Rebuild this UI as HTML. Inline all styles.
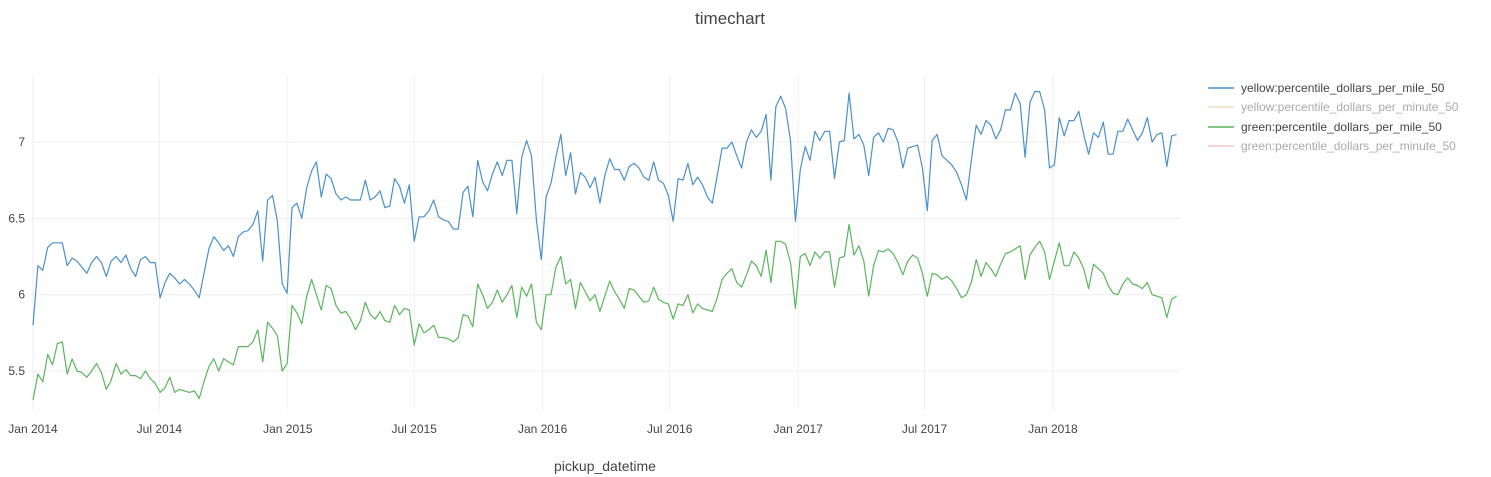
<!DOCTYPE html>
<html><head><meta charset="utf-8"><style>
body{margin:0;background:#fff;font-family:"Liberation Sans",sans-serif;}
svg{display:block}
</style></head><body>
<svg id="chart" width="1491" height="477">
<text x="730" y="24" text-anchor="middle" font-size="17" fill="#444">timechart</text>
<g id="grid"></g>
<g id="yticks"></g>
<g id="xticks"></g>
<g id="series"></g>
<text x="605" y="471" text-anchor="middle" font-size="14" fill="#444">pickup_datetime</text>
<g>
<g><line x1="1208" y1="88" x2="1234" y2="88" stroke="#4a90c8" stroke-width="1.5"/><text x="1241" y="92" font-size="12" fill="#444">yellow:percentile_dollars_per_mile_50</text></g>
<g><line x1="1208" y1="107" x2="1234" y2="107" stroke="#f7ddc0" stroke-width="1.5"/><text x="1241" y="111" font-size="12" fill="#aaa">yellow:percentile_dollars_per_minute_50</text></g>
<g><line x1="1208" y1="127" x2="1234" y2="127" stroke="#59b55b" stroke-width="1.5"/><text x="1241" y="131" font-size="12" fill="#444">green:percentile_dollars_per_mile_50</text></g>
<g><line x1="1208" y1="146" x2="1234" y2="146" stroke="#f4c6cb" stroke-width="1.5"/><text x="1241" y="150" font-size="12" fill="#aaa">green:percentile_dollars_per_minute_50</text></g>
</g>
</svg>
<script>
const startDate = "2014-01-01";
const yTicks = [5.5, 6, 6.5, 7];
const xTickLabels = ["Jan 2014","Jul 2014","Jan 2015","Jul 2015","Jan 2016","Jul 2016","Jan 2017","Jul 2017","Jan 2018"];
const xTickDates = ["2014-01-01","2014-07-01","2015-01-01","2015-07-01","2016-01-01","2016-07-01","2017-01-01","2017-07-01","2018-01-01"];
const yellowPerMile = [5.80,6.19,6.16,6.31,6.34,6.34,6.34,6.19,6.24,6.22,6.18,6.14,6.21,6.25,6.21,6.12,6.22,6.25,6.21,6.26,6.17,6.12,6.23,6.25,6.21,6.21,5.98,6.08,6.14,6.11,6.07,6.10,6.07,6.03,5.98,6.14,6.30,6.38,6.34,6.29,6.32,6.25,6.38,6.41,6.42,6.46,6.55,6.22,6.62,6.65,6.48,6.07,6.01,
6.57,6.60,6.50,6.70,6.81,6.87,6.64,6.79,6.76,6.66,6.62,6.64,6.62,6.62,6.62,6.75,6.62,6.64,6.68,6.57,6.58,6.76,6.71,6.60,6.72,6.35,6.51,6.51,6.55,6.62,6.51,6.49,6.48,6.43,6.43,6.67,6.71,6.51,6.88,6.74,6.68,6.79,6.87,6.78,6.88,6.88,6.53,6.90,7.01,6.91,6.49,
6.23,6.64,6.73,6.90,7.05,6.78,6.93,6.66,6.80,6.77,6.70,6.77,6.60,6.78,6.89,6.82,6.82,6.75,6.84,6.86,6.83,6.77,6.75,6.87,6.75,6.73,6.65,6.48,6.76,6.75,6.86,6.72,6.77,6.72,6.64,6.60,6.78,6.96,6.96,7.00,6.91,6.83,7.00,7.08,7.03,7.07,7.18,6.75,7.23,7.30,7.22,7.01,6.48,6.82,
6.97,6.88,7.07,7.01,7.07,7.07,6.76,7.00,7.01,7.32,7.02,7.05,6.98,6.78,7.03,7.06,7.00,7.09,7.08,7.00,6.83,6.96,6.97,6.98,6.83,6.55,7.01,7.05,6.91,6.88,6.85,6.80,6.72,6.62,6.88,7.11,7.05,7.14,7.11,7.02,7.08,7.21,7.21,7.32,7.25,6.90,7.26,7.33,7.33,7.21,6.83,6.85,7.16,7.04,7.14,7.14,7.20,7.05,6.92,7.06,7.03,7.13,6.92,6.92,7.07,7.07,7.15,7.08,7.01,7.06,7.16,7.00,7.05,7.06,6.84,7.04,7.05];
const greenPerMile = [5.31,5.48,5.43,5.61,5.54,5.68,5.69,5.48,5.58,5.50,5.49,5.46,5.50,5.55,5.49,5.38,5.44,5.55,5.48,5.51,5.47,5.47,5.45,5.50,5.45,5.42,5.36,5.39,5.46,5.36,5.38,5.37,5.36,5.37,5.32,5.43,5.53,5.58,5.50,5.58,5.56,5.54,5.66,5.66,5.66,5.69,5.77,5.56,5.82,5.78,5.73,5.50,5.55,5.93,5.88,5.81,5.99,6.10,
6.00,5.90,6.06,6.04,5.93,5.88,5.89,5.84,5.77,5.83,5.95,5.87,5.84,5.89,5.83,5.82,5.93,5.87,5.91,5.90,5.67,5.81,5.75,5.77,5.80,5.72,5.72,5.71,5.69,5.72,5.87,5.86,5.79,6.07,6.00,5.91,5.95,6.03,5.95,6.00,6.06,5.85,6.05,5.99,6.07,5.82,5.77,
6.00,6.00,6.18,6.25,6.07,6.10,5.91,6.08,6.02,5.96,6.00,5.89,5.99,6.09,6.02,5.97,5.91,6.04,6.03,5.99,5.95,5.96,6.05,5.97,5.95,5.94,5.84,5.94,5.93,6.00,5.88,5.94,5.91,5.90,5.89,5.98,6.10,6.14,6.17,6.08,6.05,6.13,6.22,6.19,6.12,6.29,6.08,6.35,6.35,6.33,6.21,5.91,6.25,
6.27,6.19,6.28,6.24,6.28,6.28,6.05,6.24,6.25,6.46,6.26,6.32,6.22,5.99,6.19,6.29,6.28,6.30,6.27,6.21,6.13,6.22,6.26,6.24,6.14,5.99,6.14,6.13,6.10,6.12,6.09,6.04,5.98,6.00,6.08,6.23,6.12,6.21,6.17,6.12,6.20,6.27,6.28,6.30,6.32,6.10,6.26,6.31,6.35,6.28,6.10,6.22,6.34,6.19,6.19,6.28,6.24,6.17,6.04,6.20,6.17,6.14,6.06,6.01,6.00,6.07,6.11,6.07,6.06,6.04,6.08,6.00,5.99,5.98,5.85,5.97,5.99];

const NS="http://www.w3.org/2000/svg";
const t0=Date.parse(startDate), DAY=86400000;
const PLOT={l:33,r:1180,t:75,b:410};
function xPx(ms){return 33+(ms-t0)/DAY*(1020/1461);}
function yPx(v){return 142+(7-v)*152.7;}
function mk(tag,attrs,parent){const e=document.createElementNS(NS,tag);for(const k in attrs)e.setAttribute(k,attrs[k]);parent.appendChild(e);return e;}
const grid=document.getElementById('grid'), yt=document.getElementById('yticks'), xt=document.getElementById('xticks'), ser=document.getElementById('series');
yTicks.forEach(v=>{
  const g=mk('line',{x1:PLOT.l,x2:PLOT.r,y1:yPx(v),y2:yPx(v),stroke:'#eeeeee','stroke-width':1},grid);
  
  
  const t=mk('text',{x:25,y:yPx(v)+4,'text-anchor':'end','font-size':12,fill:'#444'},yt);
  t.textContent=String(v);
  
  
});
xTickDates.forEach((d,i)=>{
  const x=xPx(Date.parse(d));
  const g=mk('line',{x1:x,x2:x,y1:PLOT.t,y2:PLOT.b,stroke:'#eeeeee','stroke-width':1},grid);
  
  
  const t=mk('text',{x:x,y:433,'text-anchor':'middle','font-size':12,fill:'#444'},xt);
  t.textContent=xTickLabels[i];
  
  
});
function drawLine(vals,color,name){
  const pts=vals.map((v,i)=>xPx(t0+i*7*DAY).toFixed(1)+','+yPx(v).toFixed(1)).join(' ');
  const p=mk('polyline',{points:pts,fill:'none',stroke:color,'stroke-width':1.2,'stroke-linejoin':'round'},ser);
  
  
}
drawLine(yellowPerMile,'#4a90c8','yellow-per-mile-line');
drawLine(greenPerMile,'#59b55b','green-per-mile-line');
</script>
</body></html>
